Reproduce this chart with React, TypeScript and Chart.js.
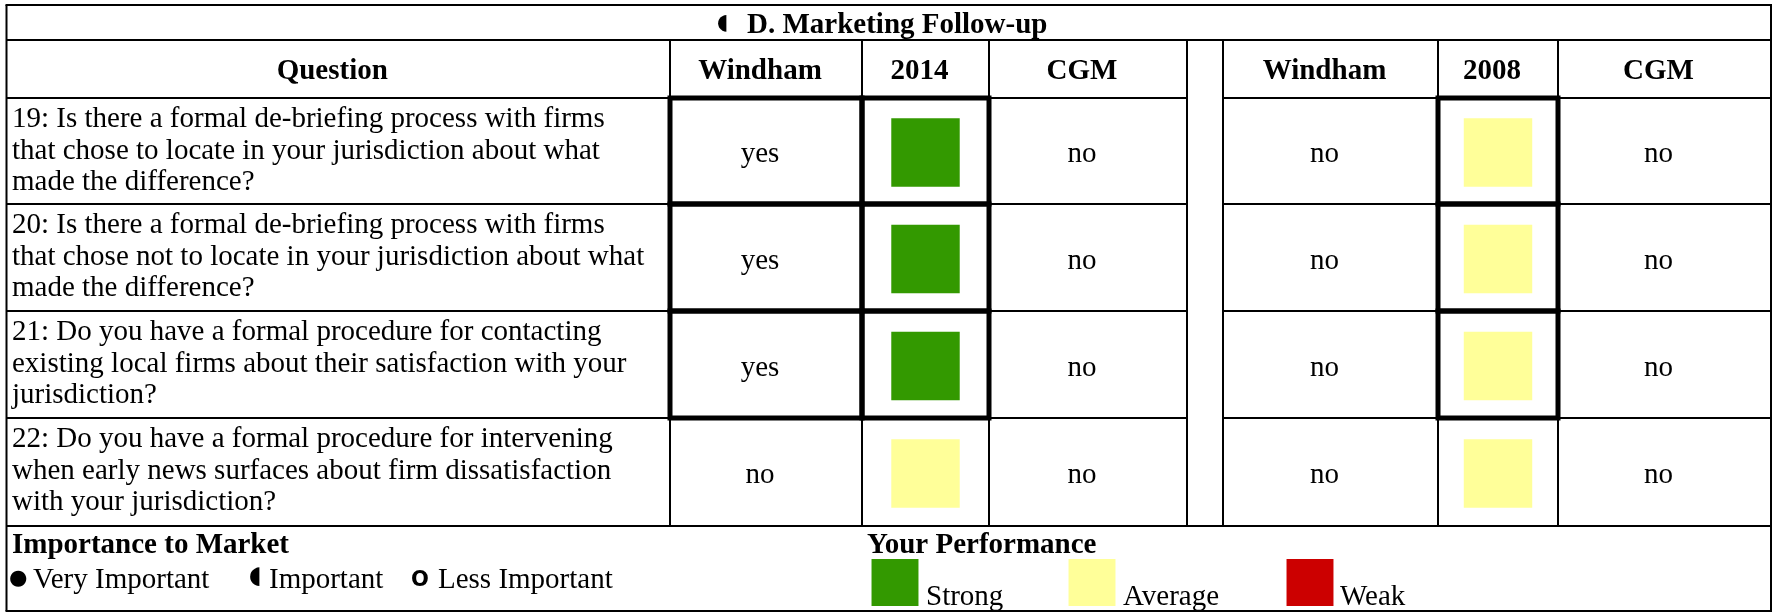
import React, { useEffect, useRef } from 'react';
import { Chart, registerables } from 'chart.js';

Chart.register(...registerables);

// ---------- data ----------
const TITLE_MARK = '◖';
const TITLE = 'D. Marketing Follow-up';
const HEADERS = ['Question', 'Windham', '2014', 'CGM', '', 'Windham', '2008', 'CGM'];
const QUESTIONS = [
  '19: Is there a formal de-briefing process with firms\nthat chose to locate in your jurisdiction about what\nmade the difference?',
  '20: Is there a formal de-briefing process with firms\nthat chose not to locate in your jurisdiction about what\nmade the difference?',
  '21: Do you have a formal procedure for contacting\nexisting local firms about their satisfaction with your\njurisdiction?',
  '22: Do you have a formal procedure for intervening\nwhen early news surfaces about firm dissatisfaction\nwith your jurisdiction?',
];
const WINDHAM_2014 = ['yes', 'yes', 'yes', 'no'];
const CGM_2014 = ['no', 'no', 'no', 'no'];
const WINDHAM_2008 = ['no', 'no', 'no', 'no'];
const CGM_2008 = ['no', 'no', 'no', 'no'];
const PERF_2014 = ['Strong', 'Strong', 'Strong', 'Average'];
const PERF_2008 = ['Average', 'Average', 'Average', 'Average'];
const BOXED_2014 = [true, true, true, false];
const BOXED_2008 = [true, true, true, false];
const IMPORTANCE_TITLE = 'Importance to Market';
const IMPORTANCE_MARKS = ['●', '◖', 'O'];
const IMPORTANCE_LEVELS = ['Very Important', 'Important', 'Less Important'];
const PERF_TITLE = 'Your Performance';
const PERF_LEVELS = ['Strong', 'Average', 'Weak'];

// ---------- style / layout ----------
const PERF_COLORS: Record<string, string> = { Strong: '#339900', Average: '#FFFF99', Weak: '#CC0000' };
const W = 1774;
const H = 613;
const COL = [6.5, 670, 862, 989, 1187, 1223, 1438, 1558, 1771];
const Y_TOP = 5;
const Y_TITLE = 40;
const ROW = [98, 204, 311, 418, 526];
const Y_BOTTOM = 611;
const FS = 29;
const SERIF = "'Liberation Serif', 'Times New Roman', serif";
const SYM = "'DejaVu Sans', sans-serif";
const TEXT_DX = -6;
// legend mark geometry: [left, bottom, height, weight]
const LEG_IMP_MARK: [number, number, number, string][] = [
  [10, 587, 16.5, 'normal'],
  [250, 587, 19, 'normal'],
  [412, 586, 16, 'bold'],
];
const LEG_IMP_TEXT_X = [33, 269, 438];
const LEG_SW_X = [895, 1092, 1310];
const LEG_SW_TEXT_X = [926, 1123, 1340];
const LEG_SW_Y = 582.5;

const colCenter = (c: number) => (COL[c] + COL[c + 1]) / 2;
const rowCenter = (r: number) => (ROW[r] + ROW[r + 1]) / 2;

function drawGlyph(
  ctx: CanvasRenderingContext2D,
  ch: string,
  weight: string,
  targetH: number,
  left: number,
  bottom: number,
) {
  ctx.font = `${weight} 100px ${SYM}`;
  const m = ctx.measureText(ch);
  const h = (m.actualBoundingBoxAscent || 70) + (m.actualBoundingBoxDescent || 0);
  const size = (100 * targetH) / (h || 70);
  ctx.font = `${weight} ${size}px ${SYM}`;
  const m2 = ctx.measureText(ch);
  ctx.textAlign = 'left';
  ctx.fillText(ch, left + (m2.actualBoundingBoxLeft || 0), bottom - (m2.actualBoundingBoxDescent || 0));
}

const tablePlugin = {
  id: 'tablePlugin',
  afterDatasetsDraw(chart: any) {
    const ctx: CanvasRenderingContext2D = chart.ctx;
    const xs = chart.scales.x;
    const ys = chart.scales.y;
    const X = (v: number) => xs.getPixelForValue(v);
    const Y = (v: number) => ys.getPixelForValue(v);
    ctx.save();
    ctx.strokeStyle = '#000';
    ctx.lineCap = 'butt';
    const line = (x1: number, y1: number, x2: number, y2: number, w: number) => {
      ctx.lineWidth = w;
      ctx.beginPath();
      ctx.moveTo(X(x1), Y(y1));
      ctx.lineTo(X(x2), Y(y2));
      ctx.stroke();
    };
    const L = COL[0];
    const R = COL[COL.length - 1];
    // outer border
    line(L - 1, Y_TOP, R + 1, Y_TOP, 2);
    line(L - 1, Y_BOTTOM, R + 1, Y_BOTTOM, 2);
    line(L, Y_TOP, L, Y_BOTTOM, 2);
    line(R, Y_TOP, R, Y_BOTTOM, 2);
    line(L, Y_TITLE, R, Y_TITLE, 2);
    line(L, ROW[ROW.length - 1], R, ROW[ROW.length - 1], 2);
    // row lines (skip the gap column)
    for (let i = 0; i < ROW.length - 1; i++) {
      line(L, ROW[i], COL[4], ROW[i], 2);
      line(COL[5], ROW[i], R, ROW[i], 2);
    }
    for (let c = 1; c < COL.length - 1; c++) line(COL[c], Y_TITLE, COL[c], ROW[ROW.length - 1], 2);

    // thick boxes
    const box = (c: number, r: number) => {
      ctx.lineWidth = 5;
      ctx.strokeRect(X(COL[c]), Y(ROW[r]), X(COL[c + 1]) - X(COL[c]), Y(ROW[r + 1]) - Y(ROW[r]));
    };
    BOXED_2014.forEach((b, r) => { if (b) { box(1, r); box(2, r); } });
    BOXED_2008.forEach((b, r) => { if (b) box(6, r); });

    ctx.fillStyle = '#000';
    ctx.textBaseline = 'alphabetic';
    // title
    drawGlyph(ctx, TITLE_MARK, 'normal', 17, X(718), Y(32));
    ctx.textAlign = 'left';
    ctx.font = `bold ${FS}px ${SERIF}`;
    ctx.fillText(TITLE, X(747), Y(33));
    // headers
    ctx.textAlign = 'center';
    HEADERS.forEach((h, c) => {
      if (h) ctx.fillText(h, X(colCenter(c) + TEXT_DX), Y(79));
    });
    // questions
    ctx.font = `${FS}px ${SERIF}`;
    ctx.textAlign = 'left';
    QUESTIONS.forEach((q, r) => {
      q.split('\n').forEach((ln, k) => ctx.fillText(ln, X(12), Y(ROW[r] + 29 + k * 31.7)));
    });
    // answers
    ctx.textAlign = 'center';
    const cols: [string[], number][] = [[WINDHAM_2014, 1], [CGM_2014, 3], [WINDHAM_2008, 5], [CGM_2008, 7]];
    cols.forEach(([arr, c]) => arr.forEach((v, r) => ctx.fillText(v, X(colCenter(c) + TEXT_DX), Y(rowCenter(r) + 11))));

    // legend
    ctx.textAlign = 'left';
    ctx.font = `bold ${FS}px ${SERIF}`;
    ctx.fillText(IMPORTANCE_TITLE, X(12), Y(553));
    ctx.fillText(PERF_TITLE, X(867), Y(553));
    IMPORTANCE_LEVELS.forEach((lv, i) => {
      const [lx, by, hh, wt] = LEG_IMP_MARK[i];
      drawGlyph(ctx, IMPORTANCE_MARKS[i], wt, hh, X(lx), Y(by));
      ctx.textAlign = 'left';
      ctx.font = `${FS}px ${SERIF}`;
      ctx.fillText(lv, X(LEG_IMP_TEXT_X[i]), Y(588));
    });
    ctx.font = `${FS}px ${SERIF}`;
    PERF_LEVELS.forEach((lv, i) => {
      ctx.fillText(lv, X(LEG_SW_TEXT_X[i]), Y(605));
    });
    ctx.restore();
  },
};

export default function App() {
  const ref = useRef<HTMLCanvasElement>(null);
  useEffect(() => {
    const perfPoints = [
      ...PERF_2014.map((p, r) => ({ x: colCenter(2), y: rowCenter(r) + 1.5, p })),
      ...PERF_2008.map((p, r) => ({ x: colCenter(6), y: rowCenter(r) + 1.5, p })),
    ];
    const legendPoints = PERF_LEVELS.map((p, i) => ({ x: LEG_SW_X[i], y: LEG_SW_Y, p }));
    const chart = new Chart(ref.current!, {
      type: 'scatter',
      data: {
        datasets: [
          {
            data: perfPoints as any,
            pointStyle: 'rect',
            pointRadius: 48.4,
            pointHoverRadius: 48.4,
            borderWidth: 0,
            pointBorderWidth: 0,
            backgroundColor: perfPoints.map((d) => PERF_COLORS[d.p]),
            pointBackgroundColor: perfPoints.map((d) => PERF_COLORS[d.p]),
          } as any,
          {
            data: legendPoints as any,
            pointStyle: 'rect',
            pointRadius: 33.2,
            pointHoverRadius: 33.2,
            borderWidth: 0,
            pointBorderWidth: 0,
            pointBackgroundColor: legendPoints.map((d) => PERF_COLORS[d.p]),
          } as any,
        ],
      },
      options: {
        animation: false,
        responsive: false,
        devicePixelRatio: 1,
        layout: { padding: 0, autoPadding: false },
        events: [],
        plugins: { legend: { display: false }, tooltip: { enabled: false } },
        scales: {
          x: { type: 'linear', min: 0, max: W, display: false },
          y: { type: 'linear', min: 0, max: H, reverse: true, display: false },
        },
      },
      plugins: [tablePlugin],
    });
    return () => chart.destroy();
  }, []);
  return (
    <div style={{ position: 'absolute', left: 0, top: 0, width: W, height: H, background: '#fff' }}>
      <canvas ref={ref} width={W} height={H} style={{ width: W, height: H, display: 'block' }} />
    </div>
  );
}
